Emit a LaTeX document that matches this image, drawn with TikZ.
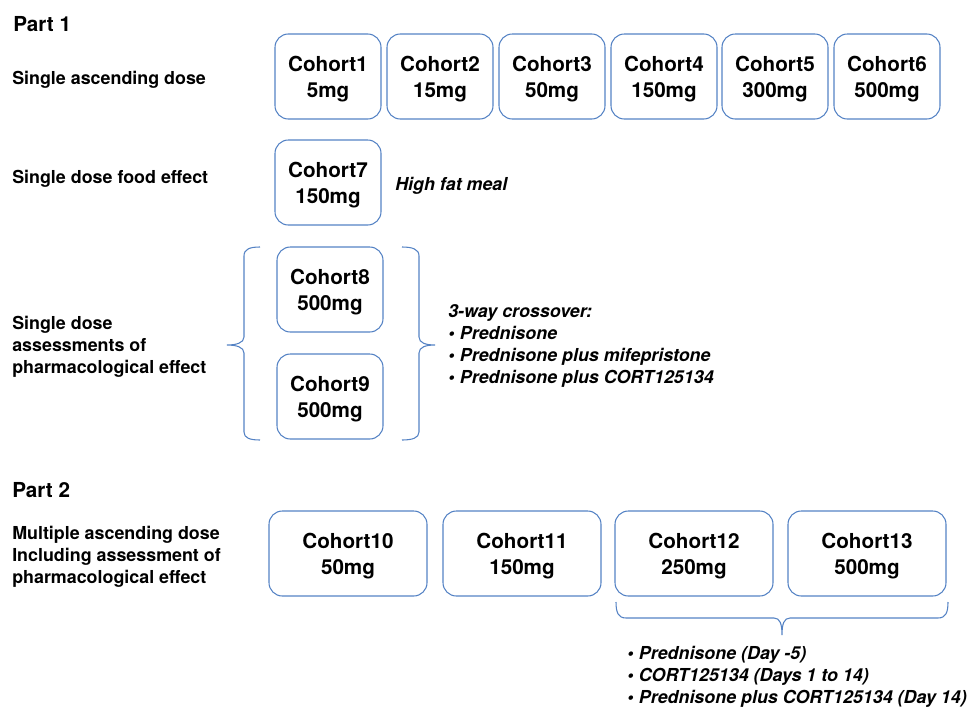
\documentclass[tikz,border=0pt]{standalone}
\usepackage{fontspec}
\setmainfont{TeX Gyre Heros}
\definecolor{boxblue}{RGB}{84,130,196}
\begin{document}
\begin{tikzpicture}[x=0.75pt,y=-0.75pt,
  cohort/.style={draw=boxblue,line width=0.8pt,rounded corners=10pt,
    minimum width=79.5pt,minimum height=63.75pt,align=center,inner sep=0pt,
    text depth=0pt,
    font=\fontsize{15.5}{19.5}\selectfont\bfseries},
  widecohort/.style={cohort,minimum width=118.5pt},
  lbl/.style={anchor=west,inner sep=0pt,align=left,
    font=\fontsize{13.4}{16.5}\selectfont\bfseries},
  ilbl/.style={lbl,font=\fontsize{13.4}{16.5}\selectfont\bfseries\itshape},
  head/.style={anchor=west,inner sep=0pt,font=\fontsize{15.5}{19}\selectfont\bfseries},
  bracket/.style={draw=boxblue,line width=0.8pt}]
\newcommand{\bul}{\textbullet\hspace{0.3em}}
\useasboundingbox (0,0) rectangle (974,707);
% headings and labels
\node[head] (p1) at (13,24.5) {Part 1};
\node[lbl] (l1) at (12,80) {Single ascending dose};
\node[lbl] (l2) at (12,179) {Single dose food effect};
\node[lbl] (l3) at (12,346.5) {Single dose\\assessments of\\pharmacological effect};
\node[head] (p2) at (12,490.5) {Part 2};
\node[lbl] (l4) at (12,557) {Multiple ascending dose\\Including assessment of\\pharmacological effect};
% row 1
\node[cohort] (c1) at (328,76.5) {Cohort1\\5mg};
\node[cohort] (c2) at (440,76.5) {Cohort2\\15mg};
\node[cohort] (c3) at (552,76.5) {Cohort3\\50mg};
\node[cohort] (c4) at (664,76.5) {Cohort4\\150mg};
\node[cohort] (c5) at (775,76.5) {Cohort5\\300mg};
\node[cohort] (c6) at (887,76.5) {Cohort6\\500mg};
% food effect
\node[cohort] (c7) at (328,182.5) {Cohort7\\150mg};
\node[ilbl] (hf) at (395,186) {High fat meal};
% pharmacological
\node[cohort] (c8) at (330,289.5) {Cohort8\\500mg};
\node[cohort] (c9) at (330,396.5) {Cohort9\\500mg};
\node[ilbl] (xo) at (448,346) {3-way crossover:\\\bul Prednisone\\\bul Prednisone plus mifepristone\\\bul Prednisone plus CORT125134};
% braces
\draw[bracket] (260,247) .. controls (250,247) and (244,249) .. (244,256) -- (244,337)
  .. controls (244,343) and (236,345) .. (227,345)
  .. controls (236,345) and (244,347) .. (244,353) -- (244,432)
  .. controls (244,438) and (250,440) .. (260,440);
\draw[bracket] (402,247) .. controls (412,247) and (419,249) .. (419,256) -- (419,337)
  .. controls (419,343) and (426,345) .. (435,345)
  .. controls (426,345) and (419,347) .. (419,353) -- (419,432)
  .. controls (419,438) and (412,440) .. (402,440);
% part 2
\node[widecohort] (c10) at (348,553.5) {Cohort10\\50mg};
\node[widecohort] (c11) at (522,553.5) {Cohort11\\150mg};
\node[widecohort] (c12) at (694,553.5) {Cohort12\\250mg};
\node[widecohort] (c13) at (867,553.5) {Cohort13\\500mg};
\draw[bracket] (616,602) .. controls (616,612) and (618,618) .. (626,618) -- (774,618)
  .. controls (780,618) and (782,624) .. (782,635)
  .. controls (782,624) and (784,618) .. (790,618) -- (938,618)
  .. controls (946,618) and (948,612) .. (948,602);
\node[ilbl] (md) at (627,677) {\bul Prednisone (Day -5)\\\bul CORT125134 (Days 1 to 14)\\\bul Prednisone plus CORT125134 (Day 14)};
\end{tikzpicture}
\end{document}
